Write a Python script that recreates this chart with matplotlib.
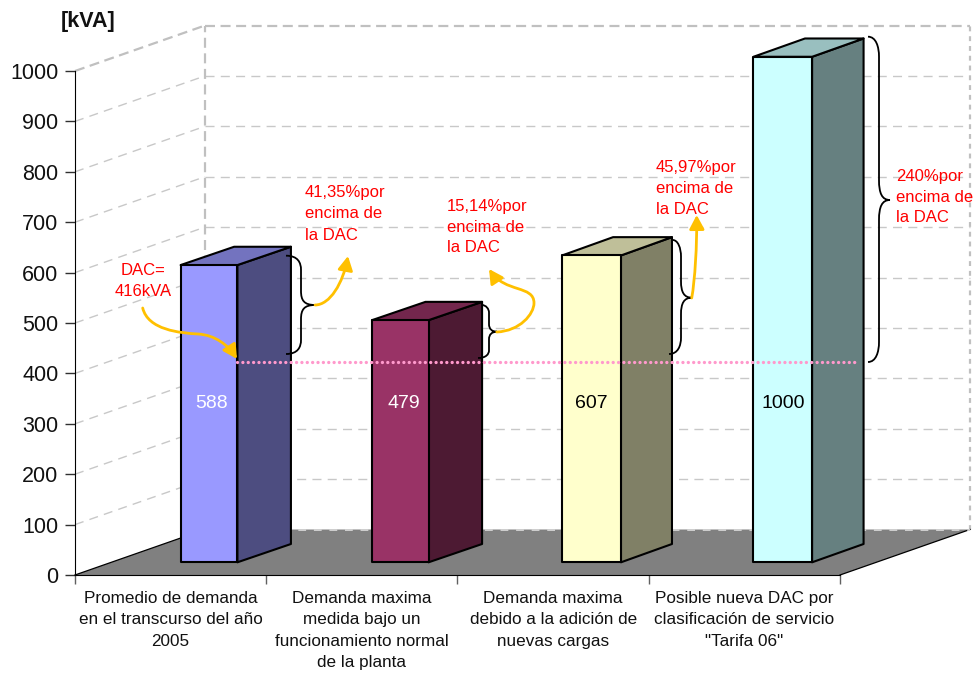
import matplotlib
matplotlib.use("Agg")
import matplotlib.pyplot as plt
from matplotlib.patches import Polygon, FancyArrowPatch, PathPatch
from matplotlib.path import Path
from matplotlib.transforms import Affine2D

plt.rcParams['font.family'] = ['Liberation Sans', 'DejaVu Sans']

# data
categories = ['Promedio de demanda\nen el transcurso del año\n2005',
              'Demanda maxima\nmedida bajo un\nfuncionamiento normal\nde la planta',
              'Demanda maxima\ndebido a la adición de\nnuevas cargas',
              'Posible nueva DAC por\nclasificación de servicio\n"Tarifa 06"']
values = [588, 479, 607, 1000]
value_labels = ['588', '479', '607', '1000']
dac = 416
y_ticks = [0, 100, 200, 300, 400, 500, 600, 700, 800, 900, 1000]

# bar colours
front_colors = ['#9999FF', '#993366', '#FFFFCC', '#CCFFFF']
side_colors = ['#4D4D80', '#4D1A33', '#808066', '#668080']
top_colors = ['#7373BF', '#73264D', '#BFBF99', '#99BFBF']
label_colors = ['white', 'white', 'black', 'black']

W, H = 974, 674
fig = plt.figure(figsize=(W / 100, H / 100), dpi=100)
ax = fig.add_axes([75 / W, (H - 575) / H, 765 / W, 504 / H])
ax.set_xlim(0, 4)
ax.set_ylim(0, 1000)

# how many pixels one axis unit takes
PX_X = 765 / 4
PX_Y = 504 / 1000
# depth of the box, and of each bar, in pixels
BOX_DX, BOX_DY = 130, 45.5
BAR_DX, BAR_DY = [53.5, 53.5, 51, 51.5], 18.3
BAR_W = [56.8, 56.6, 58.9, 58.6]
BAR_SHIFT, BAR_LIFT = 38.4, 12.7
BAR_SCALE = 1.003

# overlay for annotations, placed in pixels from the top left
to_px = Affine2D().scale(1 / W, -1 / H).translate(0, 1) + fig.transFigure


def dx(px):
    return px / PX_X


def dy(px):
    return px / PX_Y


grid = dict(color='#C8C8C8', lw=1.0, dashes=(6.5, 4.5), zorder=1, clip_on=False)
edge = dict(color='#C0C0C0', lw=1.6, dashes=(4.5, 2.5), zorder=1, clip_on=False)

# floor
ax.add_patch(Polygon([(0, 0), (dx(BOX_DX), dy(BOX_DY)), (4 + dx(BOX_DX), dy(BOX_DY)), (4, 0)],
                     closed=True, facecolor='#808080', edgecolor='none', zorder=1, clip_on=False))
ax.plot([0, dx(BOX_DX)], [0, dy(BOX_DY)], color='black', lw=0.9, zorder=2, clip_on=False)
ax.plot([4, 4 + dx(BOX_DX)], [0, dy(BOX_DY)], color='black', lw=0.9, zorder=2, clip_on=False)

# walls and gridlines
for v in y_ticks[1:-1]:
    ax.plot([0, dx(BOX_DX)], [v, v + dy(BOX_DY)], **grid)
    ax.plot([dx(BOX_DX), 4 + dx(BOX_DX)], [v + dy(BOX_DY)] * 2, **grid)
ax.plot([dx(BOX_DX), 4 + dx(BOX_DX)], [dy(BOX_DY)] * 2, color='#D0D0D0', lw=1.4, dashes=(4, 4), zorder=2, clip_on=False)
ax.plot([dx(BOX_DX), dx(BOX_DX)], [dy(BOX_DY), 1000 + dy(BOX_DY)], **edge)
ax.plot([4 + dx(BOX_DX)] * 2, [dy(BOX_DY), 1000 + dy(BOX_DY)], color='#C0C0C0', lw=1.6, dashes=(2.2, 2.2), zorder=1, clip_on=False)
ax.plot([0, dx(BOX_DX)], [1000, 1000 + dy(BOX_DY)], **edge)
ax.plot([dx(BOX_DX), 4 + dx(BOX_DX)], [1000 + dy(BOX_DY)] * 2, **edge)

# the bars, each made of three faces
for i, v in enumerate(values):
    cx = i + 0.5 + dx(BAR_SHIFT)
    x0 = cx - dx(BAR_W[i]) / 2
    x1 = cx + dx(BAR_W[i]) / 2
    y0 = dy(BAR_LIFT)
    y1 = y0 + v * BAR_SCALE
    ox, oy = dx(BAR_DX[i]), dy(BAR_DY)
    style = dict(closed=True, edgecolor='black', lw=1.5, joinstyle='round', zorder=3 + i, clip_on=False)
    ax.add_patch(Polygon([(x1, y0), (x1 + ox, y0 + oy), (x1 + ox, y1 + oy), (x1, y1)], facecolor=side_colors[i], **style))
    ax.add_patch(Polygon([(x0, y1), (x1, y1), (x1 + ox, y1 + oy), (x0 + ox, y1 + oy)], facecolor=top_colors[i], **style))
    ax.add_patch(Polygon([(x0, y0), (x1, y0), (x1, y1), (x0, y1)], facecolor=front_colors[i], **style))
    ax.text(cx + dx([3, 4, 0, 0][i]), dy(171.5), value_labels[i], color=label_colors[i], fontsize=14,
            ha='center', va='center', zorder=10)

# DAC reference line
ax.plot([0.5 + dx(BAR_SHIFT + BAR_W[0] / 2), 3.5 + dx(BAR_SHIFT + 74)], [dac + dy(2.9)] * 2,
        color='#FF99CC', lw=2.4, linestyle=(0, (0.01, 1.6)), dash_capstyle='round', zorder=12, clip_on=False)

# axes
for name in ['top', 'right']:
    ax.spines[name].set_visible(False)
ax.patch.set_visible(False)
ax.spines['left'].set_zorder(20)
ax.spines['bottom'].set_zorder(20)
ax.set_yticks(y_ticks)
ax.set_yticklabels([str(v) for v in y_ticks], fontsize=15.5)
ax.tick_params(axis='y', length=7.2, width=1, pad=4.7, color='#303030', labelcolor='#111111')
ax.set_xticks([0, 1, 2, 3, 4])
ax.set_xticklabels([])
ax.tick_params(axis='x', which='major', length=6.5, width=1, color='#606060')
ax.set_xticks([0.5, 1.5, 2.5, 3.5], categories, minor=True)
ax.tick_params(axis='x', which='minor', length=0, pad=11.5, labelsize=12.3, labelcolor='#111111')
for t in ax.get_xticklabels(minor=True):
    t.set_linespacing(1.54)
    t.set_va('top')

fig.text(88, 21, '[kVA]', transform=to_px, fontsize=15.5, fontweight='bold', ha='center', va='center', color='#111111')

# red notes
notes = [(143, 281, 'DAC=\n416kVA', 'center'),
         (305, 214, '41,35%por\nencima de\nla DAC', 'left'),
         (447, 227, '15,14%por\nencima de\nla DAC', 'left'),
         (656, 188.5, '45,97%por\nencima de\nla DAC', 'left'),
         (896, 197, '240%por\nencima de\nla DAC', 'left')]
for x, y, s, al in notes:
    fig.text(x, y, s, transform=to_px, color='#FF0000', fontsize=12, ha=al, va='center',
             multialignment=al, linespacing=1.5, zorder=30)

M, C, L = Path.MOVETO, Path.CURVE4, Path.LINETO


def brace(x_end_top, y_top, x_mid, x_tip, y_tip, x_end_bot, y_bot):
    r = min(20, (y_tip - y_top) / 3.5)
    verts = [(x_end_top, y_top),
             (x_mid - 3, y_top), (x_mid, y_top + r / 2), (x_mid, y_top + r),
             (x_mid, y_top + r + 1), (x_mid, y_tip - r - 1), (x_mid, y_tip - r),
             (x_mid, y_tip - r / 3), (x_mid + 3, y_tip), (x_tip, y_tip),
             (x_mid + 3, y_tip), (x_mid, y_tip + r / 3), (x_mid, y_tip + r),
             (x_mid, y_tip + r + 1), (x_mid, y_bot - r - 1), (x_mid, y_bot - r),
             (x_mid, y_bot - r / 2), (x_mid - 3, y_bot), (x_end_bot, y_bot)]
    codes = [M] + [C] * 18
    fig.add_artist(PathPatch(Path(verts, codes), transform=to_px, facecolor='none', edgecolor='black',
                             lw=1.3, zorder=25))


brace(286, 255.7, 301, 315, 305, 286, 354)
brace(481.7, 305, 489, 497, 331.7, 478, 358)
brace(672.7, 240, 681, 692, 297.7, 669, 354)
brace(868, 36.7, 879, 890, 200, 868, 362)


def yellow_arrow(verts):
    codes = [M] + [C] * (len(verts) - 1)
    fig.add_artist(FancyArrowPatch(path=Path(verts, codes), transform=to_px,
                                   arrowstyle='-|>,head_length=0.6,head_width=0.32', mutation_scale=14,
                                   color='#FFC000', lw=2.0, zorder=26))


yellow_arrow([(142.7, 308), (148, 330), (180, 333), (198, 334),
              (215, 335), (228, 345), (237, 359)])
yellow_arrow([(315, 305), (330, 305), (343, 283), (348, 256)])
yellow_arrow([(496.7, 332), (520, 331), (534, 314), (534, 303),
              (534, 285), (505, 293), (489, 269)])
yellow_arrow([(691.7, 298), (695, 280), (697, 245), (696.7, 215)])

fig.savefig('out.png', dpi=100)
